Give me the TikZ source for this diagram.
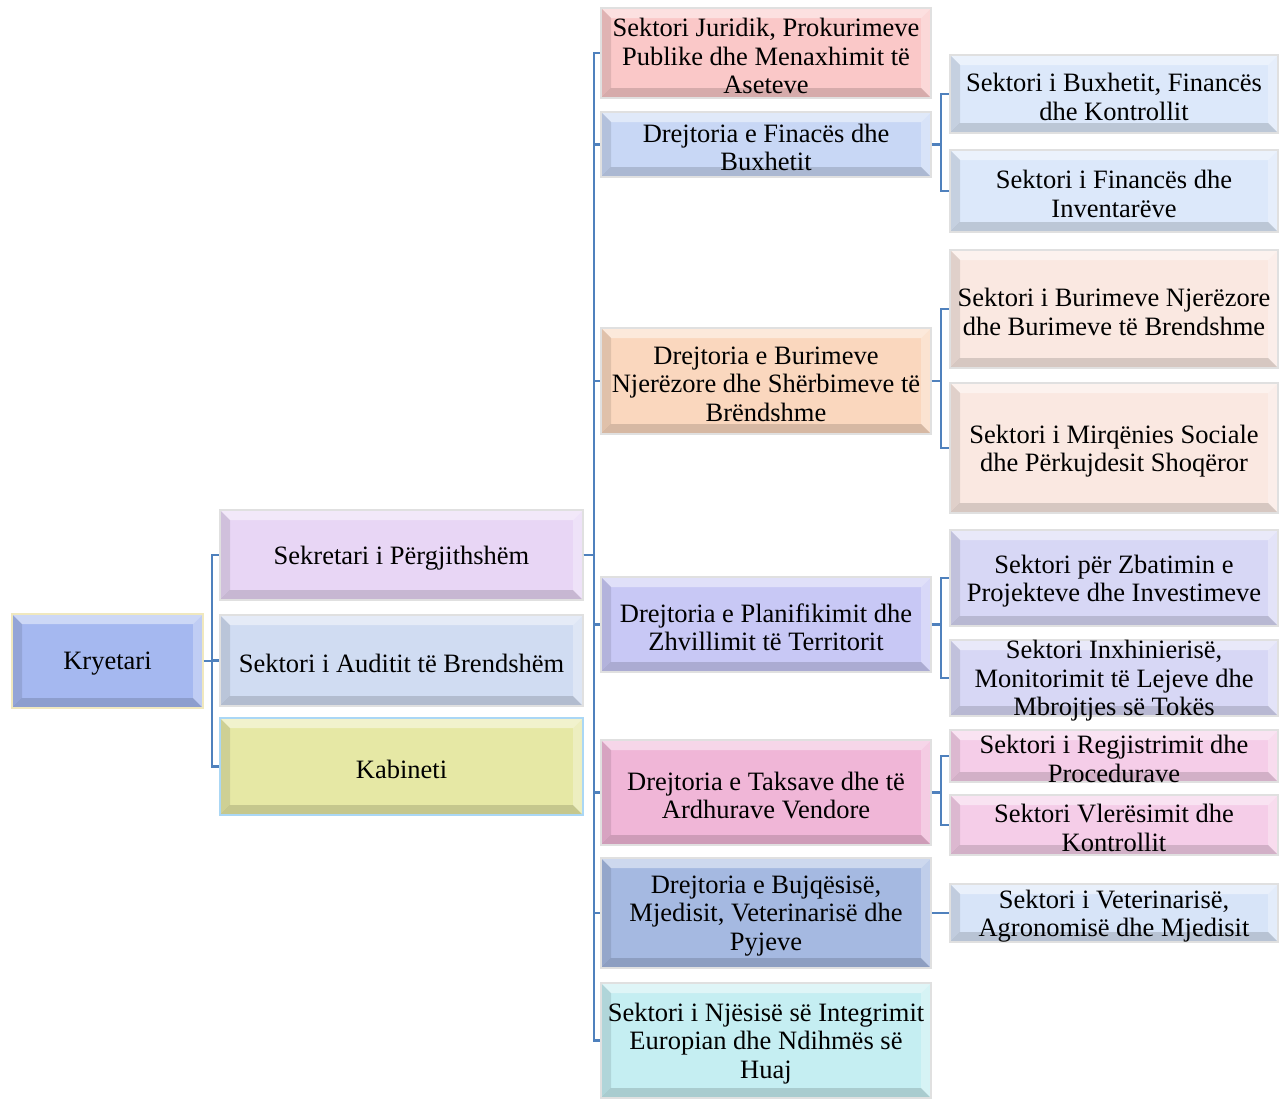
\documentclass[tikz,border=0pt]{standalone}
\usepackage{fontspec}
\setmainfont{Liberation Serif}
\usetikzlibrary{calc}
\definecolor{lineblue}{RGB}{79,129,189}
\definecolor{cKry}{RGB}{165,184,240}
\definecolor{cSek}{RGB}{232,214,245}
\definecolor{cAud}{RGB}{208,220,242}
\definecolor{cKab}{RGB}{230,232,165}
\definecolor{cJur}{RGB}{250,200,200}
\definecolor{cFin}{RGB}{200,215,245}
\definecolor{cBur}{RGB}{250,215,190}
\definecolor{cPla}{RGB}{200,200,245}
\definecolor{cTak}{RGB}{240,182,215}
\definecolor{cBuj}{RGB}{165,185,225}
\definecolor{cNje}{RGB}{197,238,242}
\definecolor{rFin}{RGB}{220,232,250}
\definecolor{rBur}{RGB}{250,232,225}
\definecolor{rPla}{RGB}{215,215,245}
\definecolor{rTak}{RGB}{245,205,232}
\definecolor{rBuj}{RGB}{215,228,248}
\definecolor{edgeY}{RGB}{240,232,190}
\definecolor{edgeB}{RGB}{170,215,245}
\tikzset{
  bev/.style={fill=#1, draw=black!12, line width=1.5pt, inner sep=0pt,
    path picture={
      \path (path picture bounding box.north west) coordinate (nw)
            (path picture bounding box.north east) coordinate (ne)
            (path picture bounding box.south east) coordinate (se)
            (path picture bounding box.south west) coordinate (sw);
      \fill[white,opacity=.45] (nw) -- (ne) -- ($(ne)+(-10,10)$) -- ($(nw)+(10,10)$) -- cycle;
      \fill[white,opacity=.30] (ne) -- (se) -- ($(se)+(-10,-10)$) -- ($(ne)+(-10,10)$) -- cycle;
      \fill[black,opacity=.10] (nw) -- (sw) -- ($(sw)+(10,-10)$) -- ($(nw)+(10,10)$) -- cycle;
      \fill[black,opacity=.14] (sw) -- (se) -- ($(se)+(-10,-10)$) -- ($(sw)+(10,-10)$) -- cycle;
    }},
  txt/.style={align=center, inner sep=0pt, yshift=-3pt, font=\fontsize{26.5}{28.5}\selectfont},
  conn/.style={draw=lineblue, line width=2.2pt},
}
\begin{document}
\begin{tikzpicture}[x=1pt,y=-1pt]
\useasboundingbox (0,0) rectangle (1286,1100);
% left
\node[bev=cKry, draw=edgeY, minimum width=191, minimum height=94, label={[txt]center:Kryetari}] (kry) at (107.5,661) {};
\node[bev=cSek, minimum width=363, minimum height=90, label={[txt]center:Sekretari i Përgjithshëm}] (sek) at (401.5,555) {};
\node[bev=cAud, minimum width=363, minimum height=91, label={[txt]center:Sektori i Auditit të Brendshëm}] (aud) at (401.5,660.5) {};
\node[bev=cKab, draw=edgeB, minimum width=363, minimum height=97, label={[txt]center:Kabineti}] (kab) at (401.5,766.5) {};
% middle
\node[bev=cJur, minimum width=330, minimum height=90, label={[txt]center:{Sektori Juridik, Prokurimeve\\Publike dhe Menaxhimit të\\Aseteve}}] (m1) at (766,53) {};
\node[bev=cFin, minimum width=330, minimum height=65, label={[txt]center:{Drejtoria e Finacës dhe\\Buxhetit}}] (m2) at (766,144.5) {};
\node[bev=cBur, minimum width=330, minimum height=106, label={[txt]center:{Drejtoria e Burimeve\\Njerëzore dhe Shërbimeve të\\Brëndshme}}] (m3) at (766,381) {};
\node[bev=cPla, minimum width=330, minimum height=95, label={[txt]center:{Drejtoria e Planifikimit dhe\\Zhvillimit të Territorit}}] (m4) at (766,624.5) {};
\node[bev=cTak, minimum width=330, minimum height=105, label={[txt]center:{Drejtoria e Taksave dhe të\\Ardhurave Vendore}}] (m5) at (766,792.5) {};
\node[bev=cBuj, minimum width=330, minimum height=110, label={[txt]center:{Drejtoria e Bujqësisë,\\Mjedisit, Veterinarisë dhe\\Pyjeve}}] (m6) at (766,913) {};
\node[bev=cNje, minimum width=330, minimum height=115, label={[txt]center:{Sektori i Njësisë së Integrimit\\Europian dhe Ndihmës së\\Huaj}}] (m7) at (766,1040.5) {};
% right
\node[bev=rFin, minimum width=328, minimum height=78, label={[txt]center:{Sektori i Buxhetit, Financës\\dhe Kontrollit}}] (r1) at (1114,94) {};
\node[bev=rFin, minimum width=328, minimum height=82, label={[txt]center:{Sektori i Financës dhe\\Inventarëve}}] (r2) at (1114,191) {};
\node[bev=rBur, minimum width=328, minimum height=118, label={[txt]center:{Sektori i Burimeve Njerëzore\\dhe Burimeve të Brendshme}}] (r3) at (1114,309) {};
\node[bev=rBur, minimum width=328, minimum height=130, label={[txt]center:{Sektori i Mirqënies Sociale\\dhe Përkujdesit Shoqëror}}] (r4) at (1114,448) {};
\node[bev=rPla, minimum width=328, minimum height=96, label={[txt]center:{Sektori për Zbatimin e\\Projekteve dhe Investimeve}}] (r5) at (1114,578) {};
\node[bev=rPla, minimum width=328, minimum height=76, label={[txt]center:{Sektori Inxhinierisë,\\Monitorimit të Lejeve dhe\\Mbrojtjes së Tokës}}] (r6) at (1114,678) {};
\node[bev=rTak, minimum width=328, minimum height=52, label={[txt]center:{Sektori i Regjistrimit dhe\\Procedurave}}] (r7) at (1114,756) {};
\node[bev=rTak, minimum width=328, minimum height=60, label={[txt]center:{Sektori Vlerësimit dhe\\Kontrollit}}] (r8) at (1114,825) {};
\node[bev=rBuj, minimum width=328, minimum height=58, label={[txt]center:{Sektori i Veterinarisë,\\Agronomisë dhe Mjedisit}}] (r9) at (1114,913) {};
% connectors
\foreach \c in {sek,aud,kab} \draw[conn] (kry.east) -- ++(8,0) |- (\c.west);
\foreach \c in {m1,m2,m3,m4,m5,m6,m7} \draw[conn] (sek.east) -- ++(10,0) |- (\c.west);
\foreach \c in {r1,r2} \draw[conn] (m2.east) -- ++(9,0) |- (\c.west);
\foreach \c in {r3,r4} \draw[conn] (m3.east) -- ++(9,0) |- (\c.west);
\foreach \c in {r5,r6} \draw[conn] (m4.east) -- ++(9,0) |- (\c.west);
\foreach \c in {r7,r8} \draw[conn] (m5.east) -- ++(9,0) |- (\c.west);
\draw[conn] (m6.east) -- (r9.west);
\end{tikzpicture}
\end{document}
